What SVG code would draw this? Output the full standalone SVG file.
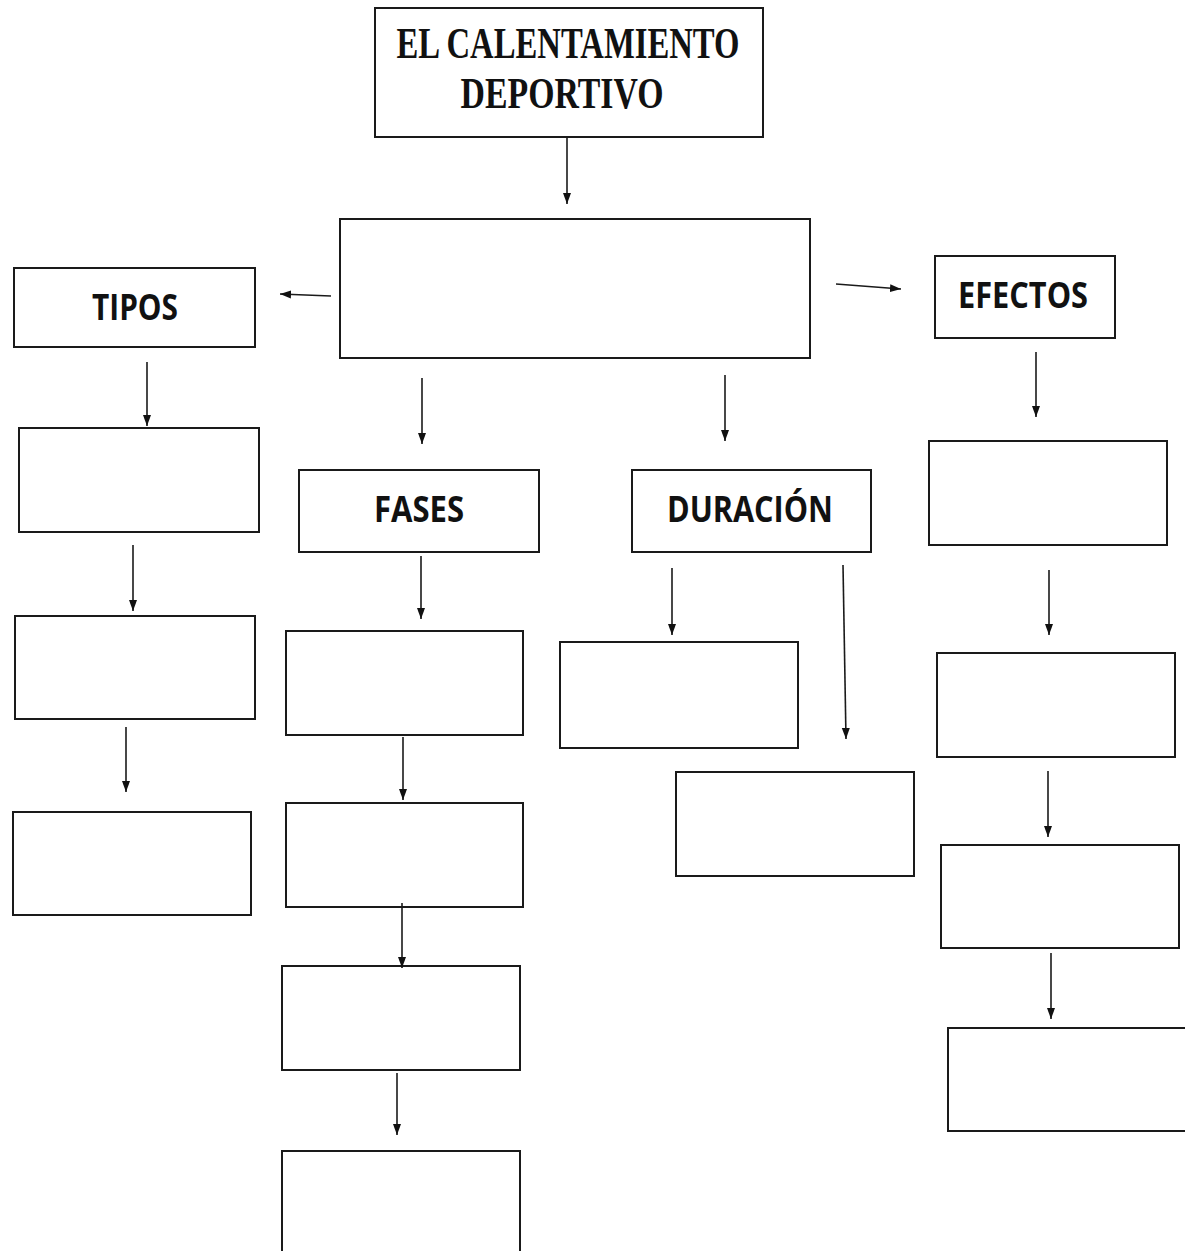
<svg xmlns="http://www.w3.org/2000/svg" width="1185" height="1251" viewBox="0 0 1185 1251">
<defs>
<marker id="ah" markerUnits="userSpaceOnUse" markerWidth="12" markerHeight="10" refX="11" refY="5" orient="auto">
<path d="M0,1 L11,5 L0,9 Z" fill="#111"/>
</marker>
<style>
.box{fill:#fff;stroke:#1a1a1a;stroke-width:2}
.h{font-family:"Open Sans","Liberation Sans",sans-serif;font-weight:bold;font-size:36px;fill:#111;text-anchor:middle}
.t{font-family:"Liberation Serif","Times New Roman",serif;font-weight:bold;font-size:44px;fill:#111;text-anchor:middle}
.c line{stroke:#1a1a1a;stroke-width:1.6;marker-end:url(#ah)}
</style>
</defs>
<rect width="1185" height="1251" fill="#fff"/>
<g id="title"><rect class="box" x="375" y="8" width="388" height="129"/>
<text class="t" x="568" y="58" textLength="343" lengthAdjust="spacingAndGlyphs">EL CALENTAMIENTO</text>
<text class="t" x="562" y="108" textLength="203" lengthAdjust="spacingAndGlyphs">DEPORTIVO</text></g>
<g id="center"><rect class="box" x="340" y="219" width="470" height="139"/></g>
<g id="tipos"><rect class="box" x="14" y="268" width="241" height="79"/>
<text class="h" x="135" y="320" textLength="86" lengthAdjust="spacingAndGlyphs">TIPOS</text></g>
<g id="efectos"><rect class="box" x="935" y="256" width="180" height="82"/>
<text class="h" x="1023" y="308" textLength="130" lengthAdjust="spacingAndGlyphs">EFECTOS</text></g>
<g id="fases"><rect class="box" x="299" y="470" width="240" height="82"/>
<text class="h" x="419" y="522" textLength="90" lengthAdjust="spacingAndGlyphs">FASES</text></g>
<g id="duracion"><rect class="box" x="632" y="470" width="239" height="82"/>
<text class="h" x="750" y="522" textLength="166" lengthAdjust="spacingAndGlyphs">DURACIÓN</text></g>
<g id="t1"><rect class="box" x="19" y="428" width="240" height="104"/></g>
<g id="t2"><rect class="box" x="15" y="616" width="240" height="103"/></g>
<g id="t3"><rect class="box" x="13" y="812" width="238" height="103"/></g>
<g id="f1"><rect class="box" x="286" y="631" width="237" height="104"/></g>
<g id="f2"><rect class="box" x="286" y="803" width="237" height="104"/></g>
<g id="f3"><rect class="box" x="282" y="966" width="238" height="104"/></g>
<g id="f4"><rect class="box" x="282" y="1151" width="238" height="110"/></g>
<g id="d1"><rect class="box" x="560" y="642" width="238" height="106"/></g>
<g id="d2"><rect class="box" x="676" y="772" width="238" height="104"/></g>
<g id="e1"><rect class="box" x="929" y="441" width="238" height="104"/></g>
<g id="e2"><rect class="box" x="937" y="653" width="238" height="104"/></g>
<g id="e3"><rect class="box" x="941" y="845" width="238" height="103"/></g>
<g id="e4"><rect class="box" x="948" y="1028" width="245" height="103"/></g>
<g id="connectors" class="c">
<line x1="567" y1="138" x2="567" y2="204"/>
<line x1="331" y1="296" x2="280" y2="294"/>
<line x1="836" y1="284" x2="901" y2="289"/>
<line x1="422" y1="378" x2="422" y2="444"/>
<line x1="725" y1="375" x2="725" y2="441"/>
<line x1="147" y1="362" x2="147" y2="426"/>
<line x1="133" y1="545" x2="133" y2="611"/>
<line x1="126" y1="727" x2="126" y2="792"/>
<line x1="421" y1="556" x2="421" y2="619"/>
<line x1="403" y1="737" x2="403" y2="800"/>
<line x1="402" y1="903" x2="402" y2="968"/>
<line x1="397" y1="1073" x2="397" y2="1135"/>
<line x1="672" y1="568" x2="672" y2="635"/>
<line x1="843" y1="565" x2="846" y2="739"/>
<line x1="1036" y1="352" x2="1036" y2="417"/>
<line x1="1049" y1="570" x2="1049" y2="635"/>
<line x1="1048" y1="771" x2="1048" y2="837"/>
<line x1="1051" y1="953" x2="1051" y2="1019"/>
</g>
</svg>
